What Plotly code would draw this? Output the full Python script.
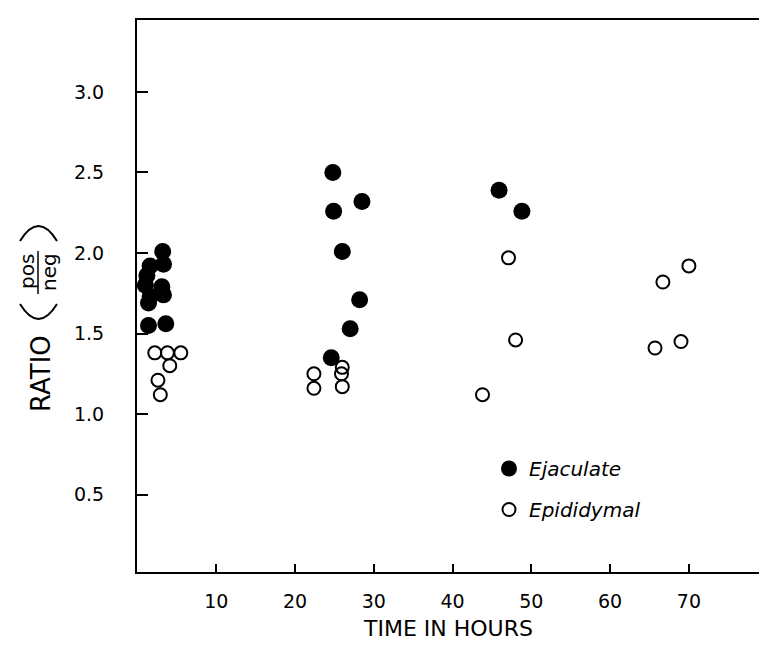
import plotly.graph_objects as go

# Data
ejac_hours = [1.2, 1.0, 1.6, 3.2, 3.3, 3.1, 3.3, 1.6, 1.4, 1.4, 3.6,
              24.8, 28.5, 24.9, 26.0, 28.2, 27.0, 24.6, 45.9, 48.8]
ejac_ratio = [1.86, 1.80, 1.92, 2.01, 1.93, 1.79, 1.74, 1.73, 1.69, 1.55, 1.56,
              2.50, 2.32, 2.26, 2.01, 1.71, 1.53, 1.35, 2.39, 2.26]

epid_hours = [2.2, 3.8, 5.5, 4.1, 2.6, 2.9, 22.4, 22.4, 26.0, 25.9, 26.0,
              43.8, 47.1, 48.0, 65.7, 66.7, 69.0, 70.0]
epid_ratio = [1.38, 1.38, 1.38, 1.30, 1.21, 1.12, 1.25, 1.16, 1.29, 1.25, 1.17,
              1.12, 1.97, 1.46, 1.41, 1.82, 1.45, 1.92]

x_ticks = [10, 20, 30, 40, 50, 60, 70]
y_ticks = [0.5, 1.0, 1.5, 2.0, 2.5, 3.0]
y_tick_text = ["0.5", "1.0", "1.5", "2.0", "2.5", "3.0"]
x_tick_text = ["10", "20", "30", "40", "50", "60", "70"]

FONT = "DejaVu Sans"

fig = go.Figure()
fig.add_trace(go.Scatter(
    x=ejac_hours, y=ejac_ratio, mode="markers", name="Ejaculate",
    legendgroup="a",
    marker=dict(symbol="circle", size=17, color="black", line=dict(width=0)),
))
fig.add_trace(go.Scatter(
    x=epid_hours, y=epid_ratio, mode="markers", name="Epididymal",
    legendgroup="b",
    marker=dict(symbol="circle", size=13, color="rgba(0,0,0,0)",
                line=dict(color="black", width=2)),
))

L, R, T, B = 137, 0, 20, 92
W, H = 759, 664
pw = W - L - R
ph = H - T - B


def px_x(p):
    return (p - L) / pw


def px_y(p):
    return (H - B - p) / ph


fig.update_layout(
    width=W, height=H,
    margin=dict(l=L, r=R, t=T, b=B, pad=0),
    paper_bgcolor="white", plot_bgcolor="white",
    font=dict(family=FONT, color="black"),
    showlegend=True,
    legend=dict(
        x=px_x(489), y=px_y(449), xanchor="left", yanchor="top",
        bgcolor="rgba(0,0,0,0)", borderwidth=0,
        font=dict(family=FONT, size=20, style="italic", color="black"),
        tracegroupgap=12, itemsizing="trace",
    ),
    xaxis=dict(
        range=[-0.06, 78.9], showgrid=False, zeroline=False,
        showline=True, linecolor="black", linewidth=2, mirror=True,
        ticks="inside", ticklen=8, tickwidth=1.5, tickcolor="black",
        tickvals=x_ticks, ticktext=x_tick_text,
        tickfont=dict(family=FONT, size=19, color="black"),
        ticklabelstandoff=11,
    ),
    yaxis=dict(
        range=[0.019, 3.447], showgrid=False, zeroline=False,
        showline=True, linecolor="black", linewidth=2, mirror=False,
        ticks="inside", ticklen=11, tickwidth=1.5, tickcolor="black",
        tickvals=y_ticks, ticktext=y_tick_text,
        tickfont=dict(family=FONT, size=19, color="black"),
        ticklabelstandoff=27,
    ),
)

# Axis titles as annotations
fig.add_annotation(text="TIME IN HOURS", xref="paper", yref="paper",
                   x=px_x(448), y=px_y(628), showarrow=False,
                   xanchor="center", yanchor="middle",
                   font=dict(family=FONT, size=22, color="black"))
fig.add_annotation(text="RATIO", xref="paper", yref="paper",
                   x=px_x(41), y=px_y(373), showarrow=False, textangle=-90,
                   xanchor="center", yanchor="middle",
                   font=dict(family=FONT, size=26, color="black"))
fig.add_annotation(text="pos", xref="paper", yref="paper",
                   x=px_x(27), y=px_y(272), showarrow=False, textangle=-90,
                   xanchor="center", yanchor="middle",
                   font=dict(family=FONT, size=20, color="black"))
fig.add_annotation(text="neg", xref="paper", yref="paper",
                   x=px_x(49), y=px_y(272), showarrow=False, textangle=-90,
                   xanchor="center", yanchor="middle",
                   font=dict(family=FONT, size=20, color="black"))
# fraction bar
fig.add_shape(type="line", xref="paper", yref="paper",
              x0=px_x(38), x1=px_x(38), y0=px_y(294), y1=px_y(251),
              line=dict(color="black", width=1.5))


def arc_path(xa, xb, yend, yctrl):
    return (f"M {px_x(xa)},{px_y(yend)} Q {px_x((xa + xb) / 2)},{px_y(yctrl)} "
            f"{px_x(xb)},{px_y(yend)}")


# rotated parentheses around the fraction
fig.add_shape(type="path", xref="paper", yref="paper",
              path=arc_path(20, 57, 304, 334),
              line=dict(color="black", width=2))
fig.add_shape(type="path", xref="paper", yref="paper",
              path=arc_path(20, 57, 241, 211),
              line=dict(color="black", width=2))

fig.write_html("out.html")
